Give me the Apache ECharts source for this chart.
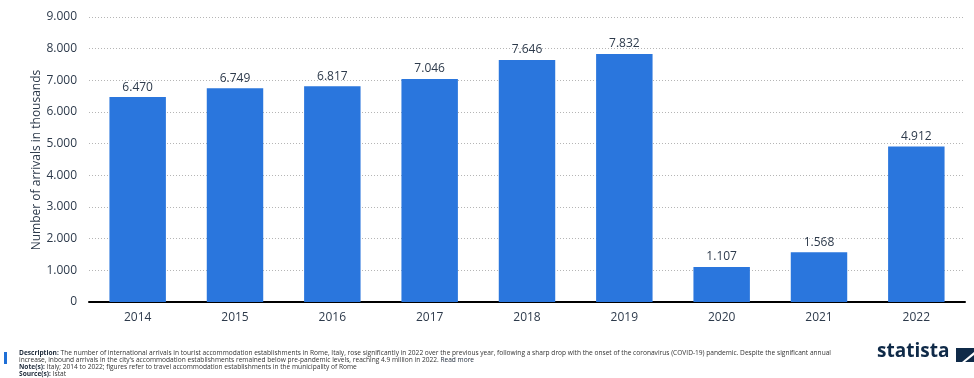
<!DOCTYPE html>
<html>
<head>
<meta charset="utf-8">
<script src="https://cdn.jsdelivr.net/npm/echarts@6/dist/echarts.min.js"></script>
<style>
  html, body { margin: 0; padding: 0; background: #fff; }
  #chart { width: 974px; height: 378px; }
</style>
</head>
<body>
<div id="chart"></div>
<script>
  // data
  const years = ['2014', '2015', '2016', '2017', '2018', '2019', '2020', '2021', '2022'];
  const arrivals = [6470, 6749, 6817, 7046, 7646, 7832, 1107, 1568, 4912];
  const yTitle = 'Number of arrivals in thousands';

  const fmt = v => String(v).replace(/\B(?=(\d{3})+(?!\d))/g, '.');

  const chart = echarts.init(document.getElementById('chart'));
  const textColor = '#2d3a4b';
  const font = '"Open Sans", "Noto Sans", sans-serif';

  const option = {
    animation: false,
    grid: { left: 89, right: 9, top: 17, bottom: 76 },
    xAxis: {
      type: 'category',
      data: years,
      axisLine: { lineStyle: { color: '#000', width: 2 } },
      axisTick: { show: false },
      axisLabel: { color: textColor, fontSize: 12, fontFamily: font, margin: 10 }
    },
    yAxis: {
      type: 'value',
      min: 0, max: 9000, interval: 1000,
      axisLabel: { color: textColor, fontSize: 12, fontFamily: font, formatter: v => fmt(v), margin: 12 },
      splitLine: { lineStyle: { color: '#b5b5b5', type: [1, 2], width: 1 } }
    },
    series: [{
      type: 'bar',
      data: arrivals,
      barWidth: '58%',
      itemStyle: { color: '#2a76dd' },
      label: {
        show: true, position: 'top', distance: 4,
        color: textColor, fontSize: 12, fontFamily: font,
        formatter: p => fmt(p.value)
      }
    }],
    graphic: [
      // y axis title, placed by hand (v6 keeps pushing the axis name away)
      {
        type: 'text', x: 37, y: 160, rotation: Math.PI / 2,
        style: { text: yTitle, fontFamily: font, fontSize: 12, fill: textColor, align: 'center', verticalAlign: 'middle' }
      },
      { type: 'rect', shape: { x: 4, y: 352, width: 3, height: 12 }, style: { fill: '#1f6fd6' } },
      {
        type: 'text', left: 19, top: 350,
        style: {
          fontFamily: font, fontSize: 6.6, lineHeight: 7, fill: '#333',
          text: '{b|Description:} The number of international arrivals in tourist accommodation establishments in Rome, Italy, rose significantly in 2022 over the previous year, following a sharp drop with the onset of the coronavirus (COVID-19) pandemic. Despite the significant annual\n' +
                'increase, inbound arrivals in the city\'s accommodation establishments remained below pre-pandemic levels, reaching 4.9 million in 2022. {u|Read more}\n' +
                '{b|Note(s):} Italy; 2014 to 2022; figures refer to travel accommodation establishments in the municipality of Rome\n' +
                '{b|Source(s):} Istat',
          rich: {
            b: { fontWeight: 'bold', fontSize: 6.6, lineHeight: 7, fontFamily: font, fill: '#1e2a3a' },
            u: { fontSize: 6.6, lineHeight: 7, fontFamily: font, fill: '#1e2a3a', textDecoration: 'underline' }
          }
        }
      },
      {
        type: 'text', left: 877, top: 342,
        style: { text: 'statista', fontFamily: font, fontWeight: 'bold', fontSize: 19, fill: '#0f2a48' }
      },
      {
        type: 'polygon',
        shape: { points: [[956, 348], [974, 348], [974, 352], [962, 362], [956, 362]] },
        style: { fill: '#0f2a48' }
      },
      {
        type: 'polygon',
        shape: { points: [[965, 362], [974, 355], [974, 362]] },
        style: { fill: '#0f2a48' }
      }
    ]
  };

  chart.setOption(option);
</script>
</body>
</html>
